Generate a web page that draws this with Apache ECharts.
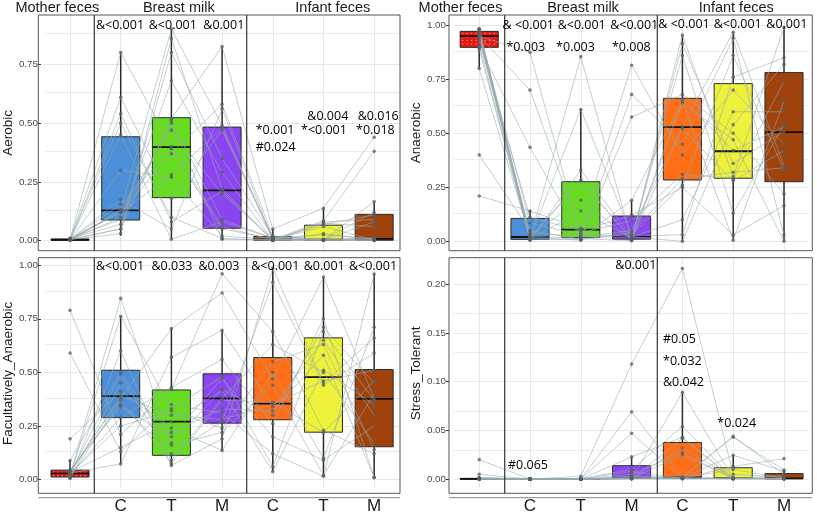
<!DOCTYPE html>
<html><head><meta charset="utf-8">
<script src="https://cdn.jsdelivr.net/npm/echarts@6/dist/echarts.min.js"></script>
<style>html,body{margin:0;padding:0;background:#fff}#c{width:817px;height:515px}</style>
</head><body><div id="c"></div>
<script>
// ---------------- data ----------------
const categories = ['Mother feces','Breast milk C','Breast milk T','Breast milk M','Infant feces C','Infant feces T','Infant feces M'];
const tickLabels = ['', 'C', 'T', 'M', 'C', 'T', 'M'];
const groupColors = ['#E41A10','#4A8FD8','#66DD1E','#8A45F0','#FF6E14','#EEF23A','#A0420B'];
const panelNames = ['Aerobic','Anaerobic','Facultatively_Anaerobic','Stress_Tolerant'];

// box statistics per category: [lower whisker, Q1, median, Q3, upper whisker]
const aerobicBox = [[0,0.002,0.004,0.007,0.012],[0.021,0.088,0.129,0.442,0.80],[0.006,0.183,0.398,0.523,0.90],[0.006,0.053,0.214,0.483,0.825],[0,0.002,0.009,0.018,0.05],[0,0.002,0.004,0.066,0.138],[0,0.002,0.008,0.112,0.164]];
const anaerobicBox = [[0.80,0.898,0.950,0.972,0.985],[0,0.009,0.020,0.106,0.145],[0,0.017,0.054,0.276,0.612],[0,0.010,0.023,0.117,0.190],[0,0.284,0.529,0.662,0.955],[0.005,0.292,0.417,0.730,0.968],[0,0.276,0.505,0.781,0.990]];
const facultBox = [[0.005,0.012,0.029,0.044,0.089],[0.073,0.289,0.389,0.510,0.762],[0.066,0.113,0.270,0.418,0.704],[0.136,0.263,0.379,0.493,0.696],[0.037,0.279,0.354,0.569,0.986],[0.015,0.221,0.478,0.661,0.945],[0.009,0.153,0.376,0.513,0.959]];
const stressBox = [[0,0,0.0003,0.0008,0.002],[0,0,0,0.0002,0.0003],[0,0,0,0.0002,0.0003],[0,0.0007,0.0012,0.0138,0.0228],[0,0.0007,0.0017,0.0376,0.089],[0,0.0007,0.001,0.0117,0.0245],[0,0.0005,0.0008,0.0057,0.0094]];

// per-subject values (18 subjects) for each category
const aerobicMotherFeces = [0.005,0.004,0.006,0.003,0.008,0.002,0.005,0.007,0.004,0.006,0.003,0.010,0.005,0.004,0.006,0.002,0.009,0.005];
const aerobicMilkC = [0.80,0.13,0.05,0.54,0.12,0.30,0.03,0.61,0.10,0.175,0.45,0.09,0.155,0.05,0.50,0.13,0.07,0.12];
const aerobicMilkT = [0.40,0.90,0.52,0.08,0.37,0.27,0.86,0.18,0.50,0.05,0.006,0.68,0.39,0.80,0.10,0.47,0.51,0.28];
const aerobicMilkM = [0.06,0.49,0.825,0.21,0.58,0.02,0.22,0.47,0.006,0.56,0.08,0.29,0.05,0.35,0.01,0.20,0.09,0.48];
const aerobicInfantC = [0.003,0.010,0.050,0.002,0.020,0.005,0.001,0.015,0.004,0.003,0.012,0.002,0.008,0.018,0.001,0.006,0.010,0.004];
const aerobicInfantT = [0.070,0.002,0.138,0.030,0.005,0.085,0.001,0.004,0.060,0.003,0.025,0.080,0.002,0.006,0.075,0.001,0.004,0.003];
const aerobicInfantM = [0.110,0.010,0.440,0.005,0.120,0.380,0.002,0.080,0.003,0.166,0.006,0.090,0.001,0.012,0.060,0.008,0.004,0.002];

const anaerobicMotherFeces = [0.97,0.95,0.98,0.21,0.96,0.90,0.94,0.985,0.40,0.95,0.91,0.80,0.97,0.96,0.93,0.98,0.89,0.95];
const anaerobicMilkC = [0.020,0.875,0.010,0.140,0.005,0.435,0.015,0.030,0.050,0.700,0.010,0.020,0.085,0.012,0.110,0.025,0.008,0.040];
const anaerobicMilkT = [0.280,0.020,0.855,0.060,0.330,0.015,0.610,0.190,0.010,0.040,0.140,0.005,0.030,0.280,0.050,0.012,0.008,0.020];
const anaerobicMilkM = [0.010,0.050,0.005,0.815,0.020,0.190,0.030,0.008,0.680,0.095,0.015,0.575,0.025,0.010,0.120,0.003,0.040,0.020];
const anaerobicInfantC = [0.660,0.530,0.955,0.400,0.000,0.650,0.260,0.915,0.450,0.310,0.860,0.680,0.030,0.520,0.250,0.640,0.290,0.100];
const anaerobicInfantT = [0.420,0.968,0.300,0.700,0.540,0.005,0.860,0.360,0.940,0.290,0.130,0.500,0.760,0.280,0.030,0.470,0.320,0.600];
const anaerobicInfantM = [0.530,0.350,0.990,0.450,0.820,0.650,0.330,0.510,0.030,0.740,0.540,0.220,0.850,0.420,0.165,0.000,0.340,0.600];

const facultMotherFeces = [0.030,0.790,0.020,0.010,0.040,0.590,0.025,0.030,0.190,0.015,0.040,0.020,0.089,0.035,0.010,0.030,0.045,0.005];
const facultMilkC = [0.390,0.210,0.845,0.600,0.380,0.130,0.490,0.073,0.410,0.762,0.350,0.290,0.500,0.150,0.370,0.250,0.340,0.450];
const facultMilkT = [0.300,0.420,0.170,0.066,0.704,0.350,0.090,0.570,0.240,0.330,0.120,0.430,0.160,0.270,0.075,0.320,0.200,0.220];
const facultMilkM = [0.280,0.960,0.420,0.190,0.870,0.310,0.380,0.696,0.136,0.480,0.270,0.560,0.220,0.415,0.370,0.240,0.470,0.330];
const facultInfantC = [0.350,0.690,0.300,0.986,0.470,0.120,0.630,0.340,0.500,0.060,0.920,0.260,0.440,0.037,0.360,0.550,0.200,0.320];
const facultInfantT = [0.460,0.230,0.710,0.450,0.945,0.015,0.500,0.650,0.100,0.690,0.440,0.750,0.020,0.510,0.220,0.630,0.090,0.580];
const facultInfantM = [0.510,0.120,0.450,0.660,0.380,0.959,0.170,0.300,0.710,0.370,0.590,0.009,0.400,0.350,0.460,0.140,0.250,0.010];

const stressMotherFeces = [0.0005,0.0200,0.0010,0.0000,0.0003,0.0050,0.0008,0.0002,0.0010,0.0000,0.0005,0.0015,0.0003,0.0002,0.0010,0.0004,0.0006,0.0001];
const stressMilkC = [0.0000,0.0002,0.0000,0.0001,0.0000,0.0000,0.0003,0.0000,0.0000,0.0001,0.0000,0.0002,0.0000,0.0000,0.0001,0.0000,0.0002,0.0000];
const stressMilkT = [0.0030,0.0000,0.0002,0.0000,0.0001,0.0000,0.0000,0.0003,0.0000,0.0001,0.0000,0.0000,0.0002,0.0000,0.0000,0.0001,0.0000,0.0000];
const stressMilkM = [0.1180,0.0010,0.0690,0.0005,0.0470,0.0228,0.0020,0.0100,0.0008,0.0050,0.0010,0.0006,0.0080,0.0004,0.0030,0.0007,0.0015,0.0003];
const stressInfantC = [0.2160,0.0320,0.0020,0.0890,0.0010,0.0430,0.0015,0.0540,0.0008,0.0270,0.0010,0.0250,0.0005,0.0420,0.0020,0.0007,0.0010,0.0003];
const stressInfantT = [0.0050,0.0010,0.0430,0.0008,0.0130,0.0005,0.0440,0.0010,0.0245,0.0007,0.0100,0.0006,0.0012,0.0004,0.0009,0.0010,0.0003,0.0005];
const stressInfantM = [0.0020,0.0005,0.0094,0.0010,0.0210,0.0008,0.0050,0.0006,0.0080,0.0004,0.0010,0.0003,0.0007,0.0040,0.0005,0.0002,0.0006,0.0003];

// axis tick values
const aerobicTicks = [0, 0.25, 0.5, 0.75];
const anaerobicTicks = [0, 0.25, 0.5, 0.75, 1];
const facultTicks = [0, 0.25, 0.5, 0.75, 1];
const stressTicks = [0, 0.05, 0.1, 0.15, 0.2];

// ---------------- layout ----------------
const panels = [
  {box: aerobicBox, subj: [aerobicMotherFeces,aerobicMilkC,aerobicMilkT,aerobicMilkM,aerobicInfantC,aerobicInfantT,aerobicInfantM], ticks: aerobicTicks,
   left: 42, top: 15, width: 357.5, height: 235.7, min: -0.0425, max: 0.9596, step: 0.125, offset: 3.7, nameGap: 22, bottom: false, pattern: false,
   border: [38.3, 15, 400, 250.7], seps: [94.3, 246.7]},
  {box: anaerobicBox, subj: [anaerobicMotherFeces,anaerobicMilkC,anaerobicMilkT,anaerobicMilkM,anaerobicInfantC,anaerobicInfantT,anaerobicInfantM], ticks: anaerobicTicks,
   left: 453.8, top: 15, width: 355.6, height: 235.7, min: -0.0435, max: 1.0477, step: 0.125, offset: 4.8, nameGap: 24, bottom: false, pattern: true,
   border: [449, 15, 812.3, 250.7], seps: [504.7, 657.3]},
  {box: facultBox, subj: [facultMotherFeces,facultMilkC,facultMilkT,facultMilkM,facultInfantC,facultInfantT,facultInfantM], ticks: facultTicks,
   left: 42, top: 257.7, width: 357.5, height: 235.6, min: -0.044, max: 1.0348, step: 0.125, offset: 3.7, nameGap: 23, bottom: true, pattern: true,
   border: [38.3, 257.7, 400, 493.3], seps: [94.3, 246.7]},
  {box: stressBox, subj: [stressMotherFeces,stressMilkC,stressMilkT,stressMilkM,stressInfantC,stressInfantT,stressInfantM], ticks: stressTicks,
   left: 453.8, top: 257.7, width: 355.6, height: 235.6, min: -0.0101, max: 0.2271, step: 0.025, offset: 4.8, nameGap: 24, bottom: true, pattern: false,
   border: [449, 257.7, 812.3, 493.3], seps: [504.7, 657.3]}
];

const headers = [
  ['Mother feces', 57.3, 8], ['Breast milk', 178.8, 8], ['Infant feces', 332.8, 8],
  ['Mother feces', 460.5, 8], ['Breast milk', 583, 8], ['Infant feces', 736.3, 8]
];
const notes = [
  ['&<0.001',120,25,'center'],['&<0.001',172.8,25,'center'],['&0.001',223.8,25,'center'],
  ['*0.001',255.7,130,'left'],['#0.024',255.7,147.3,'left'],
  ['&0.004',307.3,116,'left'],['*<0.001',301,130,'left'],
  ['&0.016',357.7,116,'left'],['*0.018',356,130,'left'],
  ['& <0.001',528.3,25,'center'],['&<0.001',581.7,25,'center'],['&<0.001',634.2,25,'center'],
  ['*0.003',525.8,47.3,'center'],['*0.003',575.5,47.3,'center'],['*0.008',631.3,47.3,'center'],
  ['& <0.001',684,24,'center'],['&<0.001',737.7,24,'center'],['&0.001',786.8,24,'center'],
  ['&<0.001',120,266,'center'],['&0.033',172,266,'center'],['&0.003',219,266,'center'],
  ['&<0.001',275.3,266,'center'],['&0.001',324.2,266,'center'],['&<0.001',373,266,'center'],
  ['&0.001',635.8,265,'center'],['#0.065',528,465.7,'center'],
  ['#0.05',663,339.3,'left'],['*0.032',663,361,'left'],['&0.042',663,382.7,'left'],['*0.024',736.7,423.3,'center']
];

function makeRenderBox(patterned) {
  return function (params, api) {
    const i = api.value(0);
    const bw = api.size([1, 0])[0] * 0.75;
    const pts = [1, 2, 3, 4, 5].map(k => api.coord([i, api.value(k)]));
    const x = pts[0][0];
    const yQ1 = pts[1][1], yMd = pts[2][1], yQ3 = pts[3][1];
    const children = [
      {type: 'rect', shape: {x: x - bw / 2, y: yQ3, width: bw, height: Math.max(yQ1 - yQ3, 0.5)},
       style: {fill: groupColors[params.dataIndex], stroke: '#2a2a2a', lineWidth: 1}}
    ];
    if (patterned && params.dataIndex === 0) {
      for (let yy = yQ3 + 2; yy < yQ1 - 1; yy += 3.5) {
        for (let xx = x - bw / 2 + 2.5; xx < x + bw / 2 - 1; xx += 4.5) {
          children.push({type: 'circle', shape: {cx: xx, cy: yy, r: 0.6}, style: {fill: 'rgba(255,220,200,0.75)'}});
        }
      }
    }
    children.push({type: 'line', shape: {x1: x - bw / 2, y1: yMd, x2: x + bw / 2, y2: yMd}, style: {stroke: '#111', lineWidth: 1.8}});
    return {type: 'group', children: children};
  };
}
function renderWhisker(params, api) {
  const i = api.value(0);
  const pts = [1, 2, 3, 4, 5].map(k => api.coord([i, api.value(k)]));
  const x = pts[0][0];
  return {type: 'group', children: [
    {type: 'line', shape: {x1: x, y1: pts[4][1], x2: x, y2: pts[3][1]}, style: {stroke: '#2b2b2b', lineWidth: 1.5}},
    {type: 'line', shape: {x1: x, y1: pts[1][1], x2: x, y2: pts[0][1]}, style: {stroke: '#2b2b2b', lineWidth: 1.5}}
  ]};
}

const grid = [], xAxis = [], yAxis = [], series = [], graphic = [];
panels.forEach((p, pi) => {
  grid.push({left: p.left, top: p.top, width: p.width, height: p.height, show: false});
  xAxis.push({
    type: 'category', gridIndex: pi, data: categories, boundaryGap: true,
    axisLine: {show: false}, axisTick: {show: false}, splitLine: {show: false},
    axisLabel: {show: p.bottom, interval: 0, formatter: (v, idx) => tickLabels[idx], fontSize: 17,
      color: '#1a1a1a', margin: 9, fontFamily: 'Liberation Sans'}
  });
  yAxis.push({
    type: 'value', gridIndex: pi, min: p.min, max: p.max, offset: p.offset,
    axisLine: {show: false},
    axisTick: {show: true, customValues: p.ticks, length: 3, lineStyle: {color: '#333', width: 1}},
    axisLabel: {customValues: p.ticks, formatter: v => v.toFixed(2), fontSize: 9.8, color: '#4d4d4d', margin: 3, fontFamily: 'Liberation Sans'},
    splitLine: {show: false},
    name: panelNames[pi], nameLocation: 'middle', nameGap: p.nameGap,
    nameTextStyle: {fontSize: 13.5, color: '#1a1a1a', fontFamily: 'Liberation Sans'}
  });
  // panel gridlines
  const ml = [];
  for (let k = 0; k * p.step <= p.max + 1e-9; k++) {
    ml.push({yAxis: +(k * p.step).toFixed(4), lineStyle: {color: '#E3E8E9', width: k % 2 === 0 ? 1 : 0.8}});
  }
  categories.forEach(c => ml.push({xAxis: c, lineStyle: {color: '#E3E8E9', width: 1}}));
  series.push({
    type: 'line', xAxisIndex: pi, yAxisIndex: pi, data: [], z: 0, silent: true,
    markLine: {z: 0, silent: true, symbol: ['none', 'none'], label: {show: false}, animation: false,
      lineStyle: {type: 'solid'}, data: ml}
  });
  const boxRows = p.box.map((b, i) => [i].concat(b));
  // whiskers
  series.push({
    type: 'custom', xAxisIndex: pi, yAxisIndex: pi, z: 2, silent: true,
    renderItem: renderWhisker, encode: {x: 0, y: [1, 2, 3, 4, 5]}, data: boxRows
  });
  // boxes
  series.push({
    type: 'custom', xAxisIndex: pi, yAxisIndex: pi, z: 2, silent: true,
    renderItem: makeRenderBox(p.pattern), encode: {x: 0, y: [1, 2, 3, 4, 5]}, data: boxRows
  });
  // subjects
  const nSub = p.subj[0].length;
  for (let s = 0; s < nSub; s++) {
    series.push({
      type: 'line', xAxisIndex: pi, yAxisIndex: pi, z: 3, silent: true,
      data: p.subj.map(arr => arr[s]),
      symbol: 'circle', symbolSize: 3.6, showSymbol: true, showAllSymbol: true,
      lineStyle: {color: 'rgba(150,168,174,0.62)', width: 0.9},
      itemStyle: {color: 'rgba(85,95,100,0.75)', borderWidth: 0},
      emphasis: {disabled: true}
    });
  }
  // borders & separators
  const b = p.border;
  graphic.push({type: 'rect', silent: true, z: 100, shape: {x: b[0], y: b[1], width: b[2] - b[0], height: b[3] - b[1]},
    style: {fill: 'none', stroke: '#555', lineWidth: 1}});
  p.seps.forEach(sx => graphic.push({type: 'line', silent: true, z: 100,
    shape: {x1: sx, y1: b[1], x2: sx, y2: b[3]}, style: {stroke: '#333', lineWidth: 1.2}}));
  if (p.bottom) {
    graphic.push({type: 'line', silent: true, z: 100, shape: {x1: b[0], y1: 497.7, x2: b[2], y2: 497.7},
      style: {stroke: '#888', lineWidth: 1}});
  }
});
headers.forEach(h => graphic.push({type: 'text', silent: true, z: 101, x: h[1], y: h[2],
  style: {text: h[0], fontSize: 14.5, fontFamily: 'Liberation Sans', fill: '#1a1a1a', align: 'center', verticalAlign: 'middle'}}));
notes.forEach(n => graphic.push({type: 'text', silent: true, z: 101, x: n[1], y: n[2],
  style: {text: n[0], fontSize: 12.5, fontFamily: 'Open Sans', fill: '#000', align: n[3], verticalAlign: 'middle'}}));

const chart = echarts.init(document.getElementById('c'), null, {renderer: 'canvas'});
chart.setOption({
  animation: false, backgroundColor: '#fff',
  grid: grid, xAxis: xAxis, yAxis: yAxis, series: series, graphic: graphic
});
</script>
</body></html>
